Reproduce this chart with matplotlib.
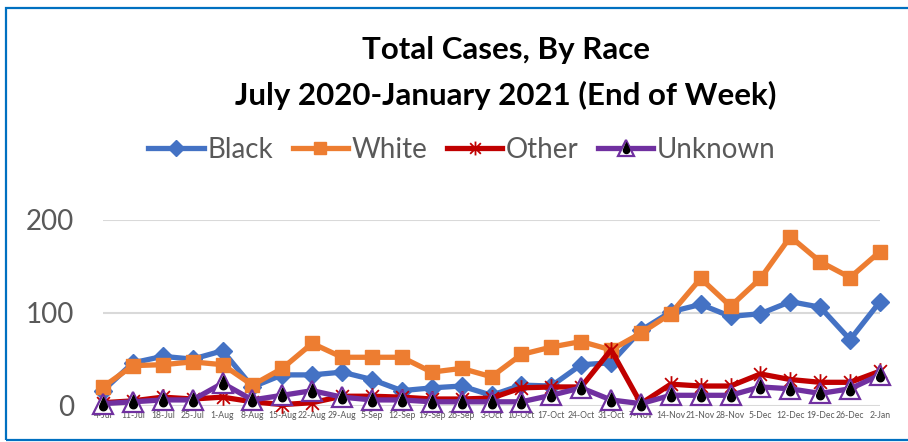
import numpy as np
import matplotlib
matplotlib.use("Agg")
import matplotlib.pyplot as plt
from matplotlib.path import Path
from matplotlib.patches import Rectangle
from matplotlib.legend_handler import HandlerTuple
from matplotlib.lines import Line2D

weeks = ["4-Jul", "11-Jul", "18-Jul", "25-Jul", "1-Aug", "8-Aug", "15-Aug", "22-Aug",
         "29-Aug", "5-Sep", "12-Sep", "19-Sep", "26-Sep", "3-Oct", "10-Oct", "17-Oct",
         "24-Oct", "31-Oct", "7-Nov", "14-Nov", "21-Nov", "28-Nov", "5-Dec", "12-Dec",
         "19-Dec", "26-Dec", "2-Jan"]
black = [16, 46, 53, 50, 59, 20, 33, 33, 36, 28, 16, 19, 21, 11, 22, 21, 44, 46, 81,
         101, 109, 96, 99, 112, 106, 71, 112]
white = [20, 43, 44, 47, 44, 22, 40, 67, 52, 52, 52, 36, 40, 31, 55, 63, 69, 60, 78,
         99, 137, 107, 137, 182, 155, 138, 166]
other = [3, 5, 9, 7, 9, 4, 1, 3, 10, 10, 9, 7, 7, 8, 19, 20, 20, 60, 2, 23, 21, 21,
         34, 28, 25, 25, 37]
unknown = [2, 4, 6, 6, 24, 6, 11, 16, 9, 6, 6, 4, 4, 4, 4, 11, 19, 6, 2, 11, 11, 11,
           20, 18, 13, 18, 33]
yticks = [0, 100, 200]

C_BLACK = "#4472C4"
C_WHITE = "#ED7D31"
C_OTHER = "#C00000"
C_UNK = "#7030A0"
GREY = "#595959"

plt.rcParams['font.family'] = ['Lato', 'DejaVu Sans']

# star marker: X plus vertical bar
star = Path([(-1, -1), (1, 1), (-1, 1), (1, -1), (0, -1.3), (0, 1.3)],
            [Path.MOVETO, Path.LINETO, Path.MOVETO, Path.LINETO, Path.MOVETO, Path.LINETO])
# drop marker (pointed top, round bottom)
r = 0.55
cx, cy = 0.0, -0.35
t = np.linspace(np.pi - 0.35, 2 * np.pi + 0.35, 40)
arc = np.column_stack([cx + r * np.cos(t), cy + r * np.sin(t)])
verts = np.vstack([[0, 1.0], arc, [0, 1.0]])
drop = Path(verts, closed=True)

fig = plt.figure(figsize=(9.08, 4.42), dpi=100)
ax = fig.add_axes([103 / 908, 1 - 405.5 / 442, (880 - 103) / 908, (405.5 - 220) / 442])

x = np.arange(len(weeks))
lw = 3.8
ax.plot(x, black, color=C_BLACK, lw=lw, marker="D", ms=9, mfc=C_BLACK, mec=C_BLACK,
        clip_on=False, zorder=3)
ax.plot(x, white, color=C_WHITE, lw=lw, marker="s", ms=10.5, mfc=C_WHITE, mec=C_WHITE,
        clip_on=False, zorder=4)
ax.plot(x, other, color=C_OTHER, lw=lw, marker=star, ms=12, mec=C_OTHER, mew=1.3,
        clip_on=False, zorder=5)
ax.plot(x, unknown, color=C_UNK, lw=lw, marker="^", ms=14, mfc="white", mec=C_UNK,
        mew=1.6, clip_on=False, zorder=6)
ax.plot(x, unknown, lw=0, marker=drop, ms=10, mfc="black", mec="black",
        clip_on=False, zorder=7)

ax.set_xlim(0, len(weeks) - 1)
ax.set_ylim(0, 200)
ax.set_yticks(yticks)
ax.set_xticks(x)
ax.set_xticklabels(weeks, fontsize=6.2, color=GREY)
ax.tick_params(axis="x", length=0, pad=4)
ax.tick_params(axis="y", length=0, pad=21, labelsize=20, labelcolor=GREY)
ax.grid(axis="y", color="#D9D9D9", lw=1.5)
ax.set_axisbelow(True)
for s in ax.spines.values():
    s.set_visible(False)

fig.text(0.557, 1 - 50 / 442, "Total Cases, By Race", ha="center", va="center",
         fontsize=22.5, fontweight="bold")
fig.text(0.557, 1 - 95 / 442, "July 2020-January 2021 (End of Week)", ha="center",
         va="center", fontsize=22.5, fontweight="bold")

h_black = Line2D([], [], color=C_BLACK, lw=lw, marker="D", ms=8)
h_white = Line2D([], [], color=C_WHITE, lw=lw, marker="s", ms=9)
h_other = Line2D([], [], color=C_OTHER, lw=lw, marker=star, ms=10, mew=1.3)
h_unk1 = Line2D([], [], color=C_UNK, lw=lw, marker="^", ms=12, mfc="white", mec=C_UNK, mew=1.6)
h_unk2 = Line2D([], [], lw=0, marker=drop, ms=8, mfc="black", mec="black")
leg = fig.legend([h_black, h_white, h_other, (h_unk1, h_unk2)],
                 ["Black", "White", "Other", "Unknown"],
                 handler_map={tuple: HandlerTuple(ndivide=1, pad=0)},
                 loc="center", bbox_to_anchor=(462 / 908, 1 - 150 / 442), ncol=4,
                 frameon=False, fontsize=20, handlelength=2.0, handletextpad=0.12,
                 columnspacing=0.7, labelcolor=GREY)

fig.patches.append(Rectangle((6 / 908, 2 / 442), 1.2, 1 - 10 / 442,
                             transform=fig.transFigure, fill=False,
                             edgecolor="#0070C0", lw=1.6))

fig.savefig("out.png", dpi=100)
